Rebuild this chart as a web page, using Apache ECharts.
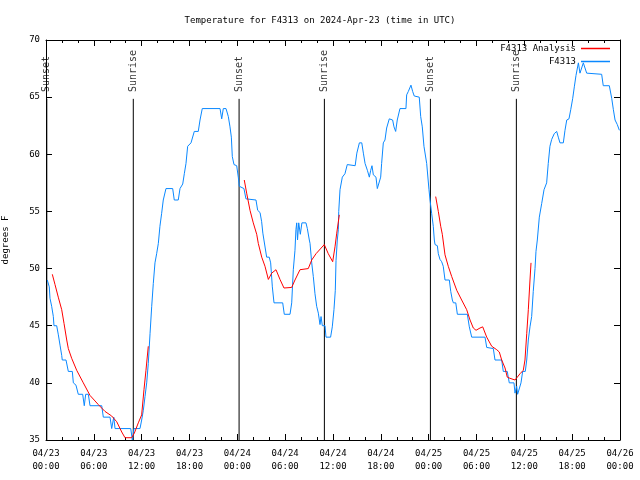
<!DOCTYPE html>
<html><head><meta charset="utf-8">
<script src="https://cdn.jsdelivr.net/npm/echarts@6/dist/echarts.min.js"></script>
<style>html,body{margin:0;padding:0;background:#fff}#c{width:640px;height:480px}</style>
</head><body><div id="c"></div>
<script>
// hours since 2024-04-23 00:00 UTC
const blueHours = [0.16,0.41,0.5,0.71,0.92,1.0,1.34,1.55,1.76,1.97,2.04,2.51,2.8,3.3,3.43,3.76,4.05,4.6,4.8,4.98,5.31,5.52,6.99,7.19,8.03,8.24,8.5,8.66,10.63,10.83,11.04,11.79,12.0,12.21,12.42,12.63,12.83,13.05,13.26,13.46,13.67,13.88,14.09,14.29,14.5,14.71,15.05,15.89,16.09,16.59,16.81,17.15,17.35,17.56,17.77,18.19,18.6,19.1,19.32,19.6,21.83,22.04,22.24,22.58,22.87,23.08,23.25,23.37,23.58,23.92,24.12,24.25,24.83,25.08,26.34,26.55,26.85,27.05,27.2,27.68,28.0,28.18,28.39,28.6,29.69,29.89,30.61,30.82,31.02,31.23,31.35,31.45,31.55,31.7,31.9,32.1,32.61,32.78,33.03,33.12,33.33,33.53,33.74,33.95,34.16,34.37,34.5,34.66,35.0,35.12,35.7,35.91,36.12,36.29,36.38,36.54,36.67,36.72,36.88,37.17,37.5,37.79,38.78,38.99,39.31,39.61,39.81,40.02,40.31,40.56,40.73,40.89,41.06,41.39,41.56,41.81,41.98,42.1,42.31,42.52,42.73,43.06,43.48,43.65,43.86,44.06,44.4,45.15,45.24,45.45,45.78,45.99,46.19,46.82,47.0,47.2,47.41,47.75,48.04,48.17,48.38,48.58,48.71,48.8,49.09,49.21,49.42,49.63,49.83,50.05,50.59,50.77,50.97,51.1,51.4,51.6,52.85,53.1,53.4,55.07,55.28,56.11,56.32,57.16,57.36,57.86,58.11,58.7,58.83,59.04,59.16,59.37,59.58,59.79,60.12,60.3,60.5,60.71,60.92,61.12,61.34,61.46,61.63,61.88,62.18,62.47,62.8,63.0,63.21,63.43,63.75,64.06,64.26,64.47,64.89,65.1,65.32,65.6,65.82,66.07,66.27,66.48,66.78,66.98,67.19,67.4,67.6,67.82,69.7,69.9,70.66,70.96,71.17,71.38,71.66,71.92];
const blueTemps = [49,48.4,47.4,46.7,45.8,45,45,44.2,43.3,42.4,42,42,41,41,40,39.8,39,39,38,39,39,38,38,37,37,36,37,36,36,35,36,36,36.75,37.6,38.8,40,41.7,44.3,46.7,48.7,50.5,51.3,52.2,53.7,54.8,56,57,57,56,56,57,57.4,58.3,59.2,60.7,61,62,62,63,64,64,63.1,64,64,63.3,62.4,61.5,59.8,59.1,59,58,57.2,57,56.1,56,55.1,54.9,54.1,53.1,51,51,50.5,48.4,47,47,46,46,47,49.9,51.6,53.4,54,52.5,54,53,54,54,53.5,52.5,52.2,50.5,49.3,47.8,46.7,46.1,45.1,45.8,45,45,44,44,44.9,46.4,48.1,50.7,52.5,53.4,55,56.9,58,58.3,59.1,59,60.1,61,61,60.1,59.2,58.6,58,58.6,59,58.2,58,57,57,58,59.2,61,61.25,62.3,63.1,63,62.4,62,63,64,64,65.2,65.5,66.05,65.5,65.1,65,63.3,62.4,60.7,59.2,56.9,56,54.8,53.7,52.5,52.1,52,51.3,50.8,50.6,50.2,49,49,48,47.25,47,47,46,46,44.9,44,44,43.1,43,42,42,41,41,40,40,39.1,39.7,39,39,40,41,41,42,43.75,44.9,45.8,48,50,51.5,52.5,54.5,55.7,56.9,57.5,59.2,60.7,61.3,61.8,62,61.5,61,61,62.1,63,63.1,63.9,64.9,65.9,66.9,68,67.1,67,68,68,67.1,67,66,66,64.9,63.9,63,62.6,62.1];

// analysis series, null = gap between segments
const redHours = [0.79,1.13,1.54,1.97,2.26,2.6,2.8,3.22,3.85,4.68,5.52,6.56,7.4,8.24,8.87,9.5,9.91,10.75,11.08,11.58,12.0,12.29,12.54,12.83,null,
 24.87,25.17,25.59,26.0,26.43,26.63,27.06,27.47,27.89,28.31,28.85,29.35,29.85,30.82,31.23,31.86,32.9,33.33,33.87,34.91,35.41,35.96,36.25,36.47,36.79,null,
 48.88,49.21,49.51,49.71,50.05,50.46,50.89,51.52,52.14,52.77,53.19,53.6,53.94,54.44,54.78,55.28,55.91,56.54,56.86,57.16,57.58,57.86,58.2,58.83,59.12,59.46,59.87,60.08,60.3,60.5,60.71,60.84];
const redTemps = [49.5,48.6,47.5,46.4,45.2,43.75,43.0,42.15,41.1,40,38.9,38.1,37.5,37.1,36.6,35.7,35.2,35.2,35.6,36.5,37.2,39.4,41.1,43.2,null,
 57.75,56.6,55.1,54.0,53.0,52.2,51.0,50.2,49.05,49.6,49.9,49.05,48.3,48.35,49.0,49.9,50.0,50.75,51.3,52.1,51.3,50.6,51.9,53.1,54.7,null,
 56.3,55.0,53.7,53.0,51.2,50.2,49.3,48.1,47.25,46.4,45.5,44.8,44.6,44.8,44.9,44.0,43.2,42.9,42.7,42.0,41.3,40.5,40.4,40.25,40.5,40.8,41.1,42,44.3,46.4,49.0,50.5];

const eventNames = ['Sunset','Sunrise','Sunset','Sunrise','Sunset','Sunrise'];
const eventHours = [0.1,10.95,24.22,34.92,48.22,59.0];

const xTickLabels = ['04/23\n00:00','04/23\n06:00','04/23\n12:00','04/23\n18:00','04/24\n00:00','04/24\n06:00','04/24\n12:00','04/24\n18:00','04/25\n00:00','04/25\n06:00','04/25\n12:00','04/25\n18:00','04/26\n00:00'];

const FONT = 'DejaVu Sans Mono';
const blueData = blueHours.map((h,i)=>[h, blueTemps[i]]);
const redData = redHours.map((h,i)=> h===null ? [null,'-'] : [h, redTemps[i]]);
const eventLineTop = 64.85, eventLabelY = 65.45;
const eventLines = [];
eventHours.forEach(h=>{ eventLines.push([h,35],[h,eventLineTop],[h,'-']); });
const eventLabels = eventHours.map((h,i)=>({value:[h,eventLabelY], name:eventNames[i]}));

const axisCommon = {
  type:'value', min:0, max:72, interval:6,
  axisLine:{show:true, onZero:false, lineStyle:{color:'#000', width:1}},
  axisTick:{show:true, inside:true, length:6, lineStyle:{color:'#000'}},
  minorTick:{show:true, splitNumber:3, length:3, lineStyle:{color:'#000'}},
  splitLine:{show:false}
};
const yCommon = {
  type:'value', min:35, max:70, interval:5,
  axisLine:{show:true, onZero:false, lineStyle:{color:'#000', width:1}},
  axisTick:{show:true, inside:true, length:6, lineStyle:{color:'#000'}},
  splitLine:{show:false}
};

const chart = echarts.init(document.getElementById('c'), null, {renderer:'canvas'});
chart.setOption({
  animation:false,
  backgroundColor:'#fff',
  title:{text:'Temperature for F4313 on 2024-Apr-23 (time in UTC)', left:'center', top:11,
    textStyle:{fontFamily:FONT, fontSize:9, fontWeight:'normal', color:'#000'}},
  legend:[
    {data:[{name:'F4313 Analysis', icon:'rect'}], right:30, top:44, padding:0, align:'right', itemWidth:29, itemHeight:1.5,
     textStyle:{fontFamily:FONT, fontSize:9, color:'#000'}},
    {data:[{name:'F4313', icon:'rect'}], right:30, top:57, padding:0, align:'right', itemWidth:29, itemHeight:1.5,
     textStyle:{fontFamily:FONT, fontSize:9, color:'#000'}}
  ],
  grid:{left:46, right:20, top:40, bottom:40, containLabel:false, outerBoundsMode:'none'},
  xAxis:[
    Object.assign({}, axisCommon, {position:'bottom',
      axisLabel:{fontFamily:FONT, fontSize:9, color:'#000', margin:7, lineHeight:13,
        formatter:(v)=> xTickLabels[Math.round(v/6)]}}),
    Object.assign({}, axisCommon, {position:'top', axisLabel:{show:false}})
  ],
  yAxis:[
    Object.assign({}, yCommon, {position:'left', name:'degrees F', nameLocation:'middle', nameGap:36, nameRotate:90,
      nameTextStyle:{fontFamily:FONT, fontSize:9, color:'#000'},
      axisLabel:{fontFamily:FONT, fontSize:9, color:'#000', margin:6}}),
    Object.assign({}, yCommon, {position:'right', axisLabel:{show:false}})
  ],
  series:[
    {name:'F4313 Analysis', type:'line', data:redData, showSymbol:false, connectNulls:false,
      lineStyle:{color:'#ff0000', width:1}, itemStyle:{color:'#ff0000'}, z:3},
    {name:'F4313', type:'line', data:blueData, showSymbol:false,
      lineStyle:{color:'#0a88ff', width:1}, itemStyle:{color:'#0a88ff'}, z:2},
    {name:'events', type:'line', data:eventLines, showSymbol:false, connectNulls:false,
      lineStyle:{color:'#000', width:1}, z:1, silent:true},
    {name:'eventLabels', type:'scatter', data:eventLabels, symbolSize:0,
      label:{show:true, formatter:'{b}', rotate:90, position:'inside', align:'left', verticalAlign:'middle',
        fontFamily:FONT, fontSize:10, color:'#000'}, z:4}
  ]
});
</script></body></html>
